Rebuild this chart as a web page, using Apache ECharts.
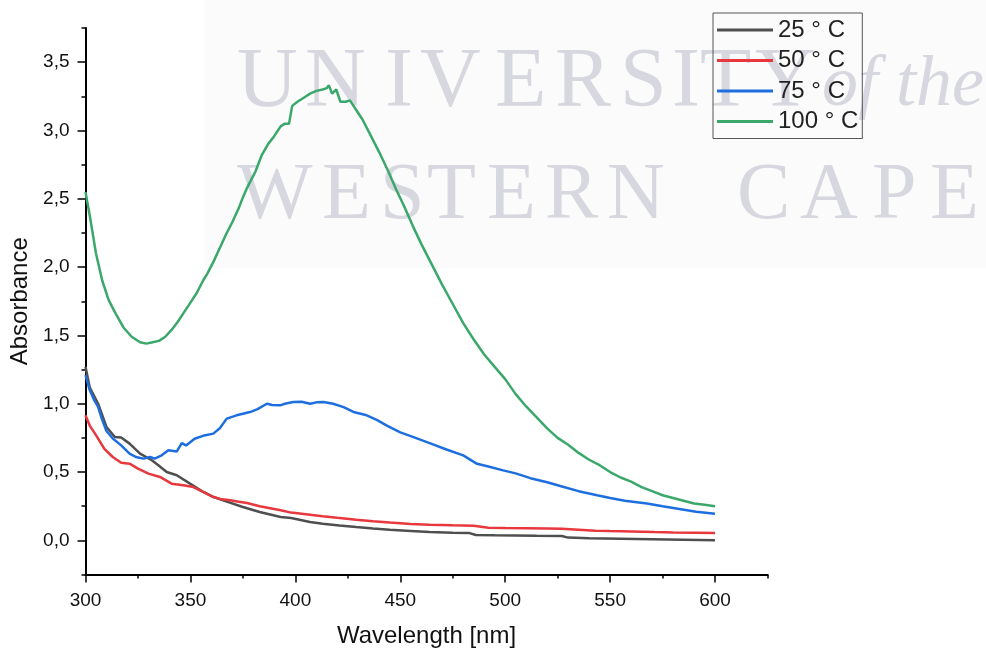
<!DOCTYPE html>
<html>
<head>
<meta charset="utf-8">
<script src="https://cdn.jsdelivr.net/npm/echarts@6/dist/echarts.min.js"></script>
<style>
html,body{margin:0;padding:0;background:#fff;}
#chart{width:986px;height:650px;}
</style>
</head>
<body>
<div id="chart"></div>
<script>
// ---- data ----
var seriesNames = ['25 ° C', '50 ° C', '75 ° C', '100 ° C'];
var xTicks = [300, 350, 400, 450, 500, 550, 600];
var yTicks = [0, 0.5, 1.0, 1.5, 2.0, 2.5, 3.0, 3.5];

var wl25 = [300,302,306,310,314,317,321,326,331.6,334.7,338.7,343.5,349.8,356.2,361,367,375,383,393,398,407,413,421,429,437,445,455,464,475,483,486,495,505,515,527,530,540,555,570,585,600];
var abs25 = [1.27,1.12,1.0,0.83,0.756,0.752,0.708,0.635,0.586,0.55,0.5,0.476,0.415,0.354,0.317,0.285,0.244,0.207,0.171,0.163,0.134,0.122,0.108,0.097,0.087,0.078,0.069,0.061,0.056,0.053,0.039,0.037,0.036,0.034,0.032,0.02,0.016,0.012,0.008,0.004,0.0];

var wl50 = [300,302,305,309,313,317,321,325,330,335.5,341,346.6,351.4,356,361,365,369,373,377,383,388,393,398,403,407,413,420,429,437,445,455,464,475,485,492,500,510,520,527,535,543,550,560,571,580,590,600];
var abs50 = [0.915,0.84,0.77,0.67,0.61,0.568,0.561,0.525,0.488,0.464,0.415,0.403,0.39,0.354,0.317,0.30,0.293,0.283,0.273,0.249,0.235,0.22,0.203,0.195,0.188,0.176,0.165,0.151,0.14,0.13,0.12,0.115,0.11,0.107,0.093,0.091,0.089,0.087,0.085,0.078,0.071,0.068,0.065,0.061,0.058,0.056,0.053];

var wl75 = [300,302,304,306,308,310,313,317,321,324,327.6,330.8,333,336.3,339.5,343.5,345.9,347.9,352,356,360.9,364,367.3,372,378.4,382,386.4,389,392.8,395,399,403,407,410,413.4,418,423,427.7,434,439,443.6,450,456.3,464.3,472,480,486.6,492,499,505,512,520,527.9,535,543.8,550,557,567.6,575,583,591,600];
var abs75 = [1.21,1.10,1.03,0.976,0.88,0.80,0.745,0.695,0.635,0.61,0.598,0.61,0.598,0.622,0.659,0.651,0.712,0.695,0.744,0.765,0.781,0.82,0.891,0.915,0.939,0.96,1.0,0.99,0.988,1.0,1.012,1.015,1.0,1.01,1.012,1.0,0.975,0.94,0.915,0.88,0.84,0.79,0.756,0.71,0.665,0.622,0.56,0.54,0.512,0.49,0.455,0.425,0.39,0.36,0.33,0.31,0.29,0.27,0.25,0.23,0.21,0.195];

var wl100 = [300,302,305,308,311,314,318,322,326,329,332,335,338,341,344,347,350,353,356,358,361,364,367,370,373,375,377,379,381,384,387,390,393,395,397,398.5,401,404,407,410,413,415,416,417.5,419.5,421.5,424,426,429,432,436,440,444,448,452,456,460,465,470,475,480,485,490,495,500,505,510,515,520,525,530,535,540,545,550,555,560,565,570,575,580,585,590,595,600];
var abs100 = [2.55,2.38,2.10,1.90,1.76,1.67,1.56,1.49,1.45,1.44,1.45,1.46,1.49,1.54,1.60,1.67,1.74,1.81,1.90,1.95,2.04,2.14,2.24,2.33,2.43,2.51,2.58,2.64,2.70,2.82,2.90,2.96,3.03,3.05,3.05,3.18,3.21,3.24,3.27,3.29,3.30,3.31,3.33,3.27,3.30,3.21,3.21,3.22,3.15,3.08,2.96,2.84,2.71,2.57,2.44,2.30,2.17,2.02,1.87,1.73,1.59,1.47,1.36,1.27,1.18,1.07,0.98,0.90,0.82,0.75,0.70,0.64,0.59,0.55,0.50,0.46,0.43,0.39,0.36,0.33,0.31,0.29,0.27,0.26,0.25];

// ---- chart ----
function pairs(xs, ys){ return xs.map(function(x,i){ return [x, ys[i]]; }); }
var colors = ['#4f4f4f', '#e8383d', '#1d6fe0', '#3aa86b'];
var allX = [wl25, wl50, wl75, wl100];
var allY = [abs25, abs50, abs75, abs100];
var FONT = "'Liberation Sans', Arial, sans-serif";
var SERIF = "'Liberation Serif', 'DejaVu Serif', serif";
var wmColor = 'rgba(196,198,210,0.68)';

function wmLetters(letters, xs, y, size) {
  return letters.map(function(ch, i){
    return { type:'text', x: xs[i], y: y, z: 0, silent:true,
      style:{ text: ch, fill: wmColor, font: size + 'px ' + SERIF, verticalAlign:'middle', align:'left',
              shadowBlur: 3, shadowColor: 'rgba(196,198,210,0.6)' } };
  });
}

var graphics = [
  { type:'rect', shape:{x:205,y:0,width:781,height:268}, style:{fill:'#fbfbfb'}, z:0, silent:true }
];
graphics = graphics.concat(
  wmLetters(['U','N','I','V','E','R','S','I','T','Y'], [237,305,385,420,495,555,620,672,700,755], 84, 84),
  wmLetters(['W','E','S','T','E','R','N','C','A','P','E'], [237,322,380,427,487,545,607,737,800,872,930], 197, 80)
);
graphics.push({ type:'text', x: 822, y: 86, z:0, silent:true,
  style:{ text:'of the', fill: wmColor, font:'italic 72px ' + SERIF, verticalAlign:'middle',
          shadowBlur: 3, shadowColor: 'rgba(196,198,210,0.6)' } });

var chart = echarts.init(document.getElementById('chart'));
chart.setOption({
  animation: false,
  backgroundColor: '#ffffff',
  graphic: graphics,
  grid: { left: 85.5, top: 28, width: 682, height: 546.5, containLabel: false, outerBoundsMode: 'none' },
  legend: {
    orient: 'vertical',
    left: 713, top: 13,
    padding: [4, 4, 4, 4],
    itemGap: 4.5,
    icon: 'rect',
    itemWidth: 56, itemHeight: 3,
    borderColor: '#555', borderWidth: 1,
    backgroundColor: 'transparent',
    textStyle: { fontFamily: FONT, fontSize: 24, color: '#222', lineHeight: 26 },
    data: seriesNames
  },
  xAxis: [{
    type: 'value', min: 300, max: 625,
    name: 'Wavelength [nm]', nameLocation: 'middle', nameGap: 50,
    nameTextStyle: { fontFamily: FONT, fontSize: 24, color: '#111' },
    axisLine: { show: true, onZero: false, lineStyle: { color: '#000', width: 2 } },
    axisTick: { show: true, length: 8, inside: false, customValues: xTicks, lineStyle: { color: '#000', width: 1.5 } },
    axisLabel: { customValues: xTicks, fontFamily: FONT, fontSize: 19, color: '#111', margin: 17 },
    splitLine: { show: false }
  }, {
    type: 'value', min: 300, max: 625, position: 'bottom',
    axisLine: { show: false, onZero: false },
    axisTick: { show: true, length: 4, customValues: [325,375,425,475,525,575,625], lineStyle: { color: '#000', width: 1.5 } },
    axisLabel: { show: false },
    splitLine: { show: false }
  }],
  yAxis: [{
    type: 'value', min: -0.25, max: 3.75,
    name: 'Absorbance', nameLocation: 'middle', nameGap: 51, nameRotate: 90,
    nameTextStyle: { fontFamily: FONT, fontSize: 24, color: '#111' },
    axisLine: { show: true, onZero: false, lineStyle: { color: '#000', width: 2 } },
    axisTick: { show: true, length: 8, inside: false, customValues: yTicks, lineStyle: { color: '#000', width: 1.5 } },
    axisLabel: { customValues: yTicks, fontFamily: FONT, fontSize: 19, color: '#111', margin: 16,
      formatter: function(v){ return v.toFixed(1).replace('.', ','); } },
    splitLine: { show: false }
  }, {
    type: 'value', min: -0.25, max: 3.75, position: 'left',
    axisLine: { show: false, onZero: false },
    axisTick: { show: true, length: 4, customValues: [-0.25,0.25,0.75,1.25,1.75,2.25,2.75,3.25,3.75], lineStyle: { color: '#000', width: 1.5 } },
    axisLabel: { show: false },
    splitLine: { show: false }
  }],
  series: seriesNames.map(function(n, i){
    return {
      name: n, type: 'line', xAxisIndex: 0, yAxisIndex: 0,
      data: pairs(allX[i], allY[i]),
      showSymbol: false, symbol: 'none', smooth: false,
      lineStyle: { color: colors[i], width: 2.5 },
      itemStyle: { color: colors[i] },
      z: 2
    };
  })
});
</script>
</body>
</html>
